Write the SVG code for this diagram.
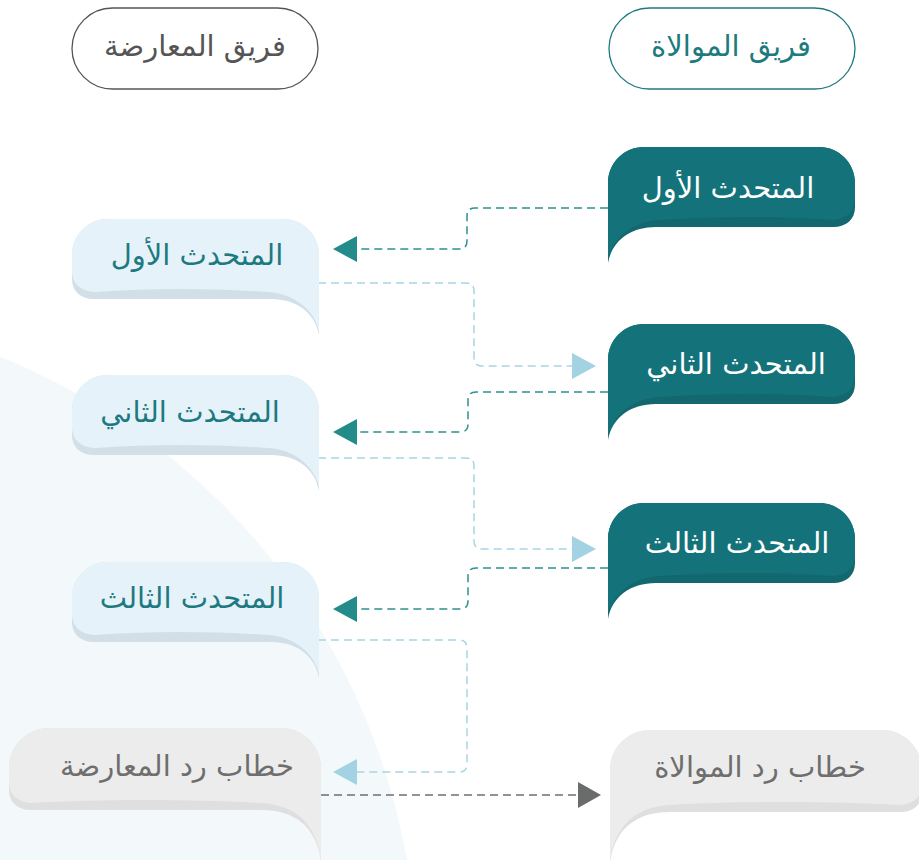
<svg xmlns="http://www.w3.org/2000/svg" xmlns:xlink="http://www.w3.org/1999/xlink" width="919" height="860" viewBox="0 0 919 860">
<style>
.t{font-family:"DejaVu Sans","Noto Sans",sans-serif;font-size:29px;text-anchor:middle}
.tw{fill:#ffffff}
.tb{fill:#1d7a80}
.tg{fill:#6e6e6e}
.c{fill:none;stroke-width:1.5;stroke-dasharray:8 5}
.ct{stroke:#2f9090}
.cb{stroke:#a7d5e5}
.cg{stroke:#6f6f6f}
</style>
<defs>
<path id="sil" d="M0,36 C0,16 16,0 36,0 L211,0 C231,0 247,16 247,36 L247,60 C247,72 239,80 225,80 L48,80 C22,80 4,94 0,116 Z"/>
<path id="face" d="M0,36 C0,16 16,0 36,0 L211,0 C231,0 247,16 247,36 L247,52 C247,64 239,72 225,73 C170,69 110,69 50,73 C24,75 5,91 0,112 Z"/>
<path id="gsil" d="M0,40 C0,18 18,0 40,0 L272,0 C294,0 312,18 312,40 L312,62 C312,74 304,82 290,82 L60,82 C25,82 4,100 0,134 Z"/>
<path id="gface" d="M0,40 C0,18 18,0 40,0 L272,0 C294,0 312,18 312,40 L312,54 C312,66 304,74 290,75 C220,71 130,71 60,75 C25,77 5,96 0,131 Z"/>
</defs>
<rect x="0" y="0" width="919" height="860" fill="#ffffff"/>
<circle cx="-250" cy="975" r="667" fill="#f3f9fa"/>

<g id="header-opposition">
<rect x="72" y="8" width="246" height="81" rx="40.5" fill="#ffffff" stroke="#555555" stroke-width="1.3"/>
<text class="t" x="195" y="56" fill="#555555">فريق المعارضة</text>
</g>
<g id="header-government">
<rect x="609" y="8" width="246" height="81" rx="40.5" fill="#ffffff" stroke="#1d7a80" stroke-width="1.3"/>
<text class="t" x="731" y="56" fill="#1d7a80">فريق الموالاة</text>
</g>

<g id="connectors">
<path class="c ct" d="M608,208 H475 Q467,208 467,216 V241 Q467,249 459,249 H356"/>
<polygon points="333,249 357,236 357,262" fill="#248b8b"/>
<path class="c cb" d="M318,283 H466 Q474,283 474,291 V358 Q474,366 482,366 H573"/>
<polygon points="596,366 572,353 572,379" fill="#a3d2e3"/>
<path class="c ct" d="M608,392 H476 Q468,392 468,400 V424 Q468,432 460,432 H356"/>
<polygon points="333,432 357,419 357,445" fill="#248b8b"/>
<path class="c cb" d="M318,458 H466 Q474,458 474,466 V541 Q474,549 482,549 H573"/>
<polygon points="596,549 572,536 572,562" fill="#a3d2e3"/>
<path class="c ct" d="M608,568 H476 Q468,568 468,576 V601 Q468,609 460,609 H356"/>
<polygon points="333,609 357,596 357,622" fill="#248b8b"/>
<path class="c cb" d="M318,640 H459 Q467,640 467,648 V764 Q467,772 459,772 H356"/>
<polygon points="333,772 357,759 357,785" fill="#a3d2e3"/>
<path class="c cg" d="M321,795 H579"/>
<polygon points="601,795 578,782 578,808" fill="#6a6c6c"/>
</g>

<g id="gov-speaker-1">
<use xlink:href="#sil" transform="translate(608,147)" fill="#13676e"/>
<use xlink:href="#face" transform="translate(608,147)" fill="#14737a"/>
<text class="t tw" x="728" y="198">المتحدث الأول</text>
</g>
<g id="gov-speaker-2">
<use xlink:href="#sil" transform="translate(608,324)" fill="#13676e"/>
<use xlink:href="#face" transform="translate(608,324)" fill="#14737a"/>
<text class="t tw" x="736" y="374">المتحدث الثاني</text>
</g>
<g id="gov-speaker-3">
<use xlink:href="#sil" transform="translate(608,503)" fill="#13676e"/>
<use xlink:href="#face" transform="translate(608,503)" fill="#14737a"/>
<text class="t tw" x="737" y="553">المتحدث الثالث</text>
</g>

<g id="opp-speaker-1">
<use xlink:href="#sil" transform="translate(319,219) scale(-1,1)" fill="#d3dfe7"/>
<use xlink:href="#face" transform="translate(319,219) scale(-1,1)" fill="#e6f2fa"/>
<text class="t tb" x="197" y="265">المتحدث الأول</text>
</g>
<g id="opp-speaker-2">
<use xlink:href="#sil" transform="translate(319,375) scale(-1,1)" fill="#d3dfe7"/>
<use xlink:href="#face" transform="translate(319,375) scale(-1,1)" fill="#e6f2fa"/>
<text class="t tb" x="190" y="422">المتحدث الثاني</text>
</g>
<g id="opp-speaker-3">
<use xlink:href="#sil" transform="translate(319,562) scale(-1,1)" fill="#d3dfe7"/>
<use xlink:href="#face" transform="translate(319,562) scale(-1,1)" fill="#e6f2fa"/>
<text class="t tb" x="192" y="608">المتحدث الثالث</text>
</g>

<g id="opp-rebuttal">
<use xlink:href="#gsil" transform="translate(321,728) scale(-1,1)" fill="#dfdfdf"/>
<use xlink:href="#gface" transform="translate(321,728) scale(-1,1)" fill="#ececec"/>
<text class="t tg" x="177" y="776">خطاب رد المعارضة</text>
</g>
<g id="gov-rebuttal">
<use xlink:href="#gsil" transform="translate(610,730)" fill="#dfdfdf"/>
<use xlink:href="#gface" transform="translate(610,730)" fill="#ececec"/>
<text class="t tg" x="760" y="777">خطاب رد الموالاة</text>
</g>
</svg>
